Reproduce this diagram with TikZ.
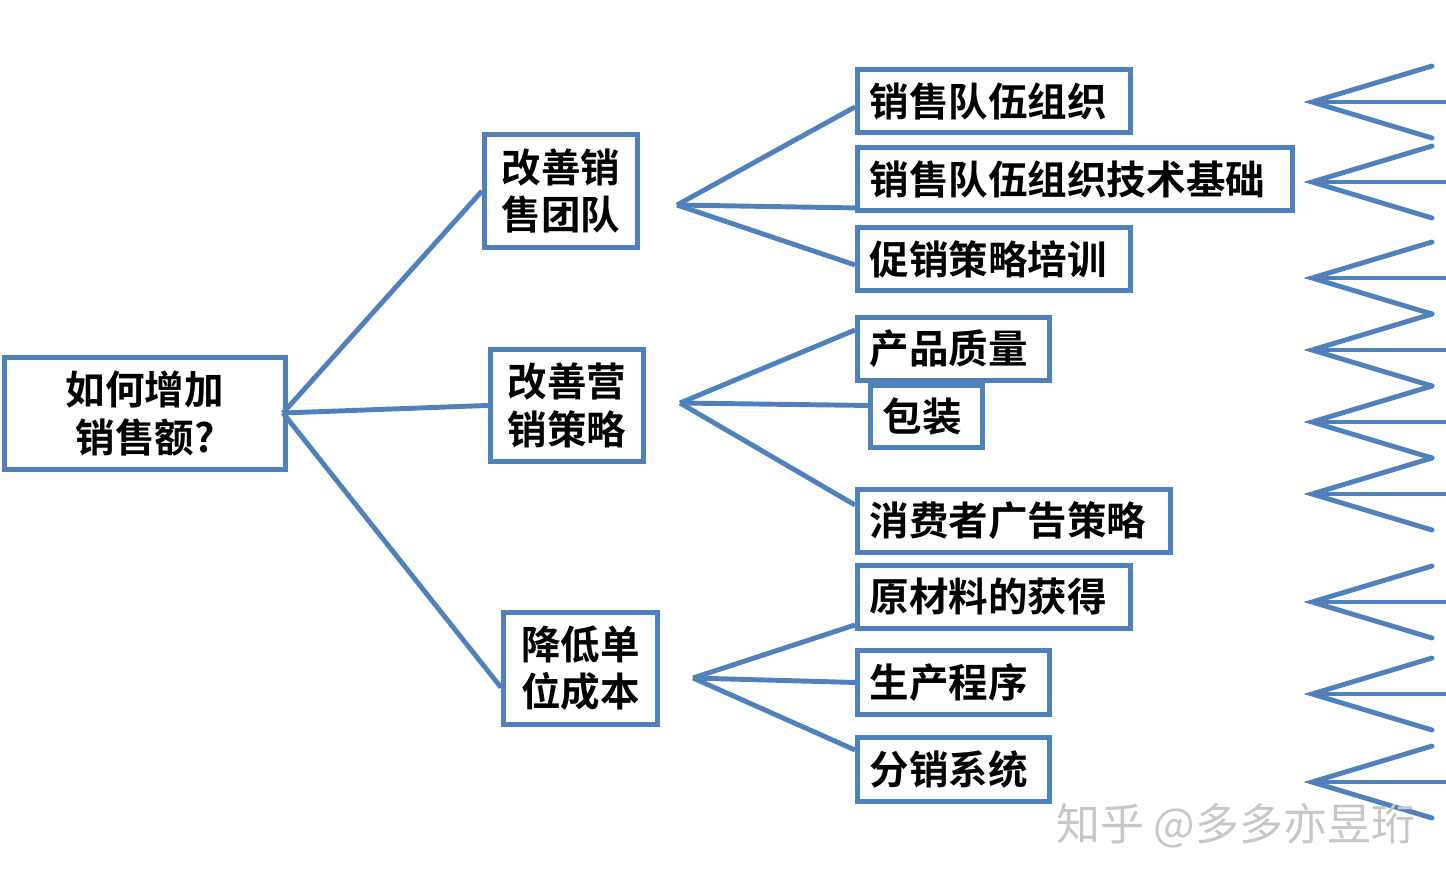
\documentclass[tikz,border=0pt]{standalone}
\usepackage{fontspec}
\setmainfont{Noto Sans CJK SC}
\newfontfamily\cjkb{Noto Sans CJK SC Bold}
\begin{document}
\begin{tikzpicture}[x=0.02cm,y=-0.02cm,
  ln/.style={draw={rgb,255:red,79;green,129;blue,189},line width=2.8pt},
  box/.style 2 args={ln,fill=white,rectangle,anchor=north west,inner sep=0pt,
    minimum width=#1*0.02cm,minimum height=#2*0.02cm,font=\cjkb\fontsize{22.5}{27}\selectfont},
  leaf/.style 2 args={box={#1}{#2},text width=#1*0.02cm-14pt,align=left,inner xsep=7pt},
  fan/.style={ln,line cap=round}]
\useasboundingbox (0,0) rectangle (1446,886);
% right fans
\foreach \y in {102,182,278,350,422,494,602,694,782}{
  \draw[fan] (1432,\y-36) -- (1312,\y) -- (1432,\y+36);
  \draw[fan] (1312,\y) -- (1446,\y);
}
\coordinate (r) at (283,413);
\coordinate (fa) at (677,205);
\coordinate (fb) at (680,403);
\coordinate (fc) at (693,678);
\node[box={281}{112},align=center] (root) at (2,355) {如何增加\\销售额?};
\node[box={153}{113},align=center] (a) at (482,132) {改善销\\售团队};
\node[box={153}{112},align=center] (b) at (488,347) {改善营\\销策略};
\node[box={154}{112},align=center] (c) at (501,610) {降低单\\位成本};
\node[leaf={273}{63}] (a1) at (855,67) {销售队伍组织};
\node[leaf={435}{63}] (a2) at (855,145) {销售队伍组织技术基础};
\node[leaf={273}{63}] (a3) at (855,225) {促销策略培训};
\node[leaf={192}{63}] (b1) at (855,315) {产品质量};
\node[leaf={112}{62}] (b2) at (868,383) {包装};
\node[leaf={313}{63}] (b3) at (855,487) {消费者广告策略};
\node[leaf={273}{63}] (c1) at (855,563) {原材料的获得};
\node[leaf={192}{64}] (c2) at (855,648) {生产程序};
\node[leaf={192}{64}] (c3) at (855,735) {分销系统};
\draw[ln] (r) -- (a.west);
\draw[ln] (r) -- (b.west);
\draw[ln] (r) -- ([yshift=-0.38cm]c.west);
\draw[ln] (fa) -- ([yshift=-0.12cm]a1.west);
\draw[ln] (fa) -- ([yshift=0.1cm]a2.south west);
\draw[ln] (fa) -- ([yshift=-0.12cm]a3.west);
\draw[ln] (fb) -- ([yshift=-0.3cm]b1.north west);
\draw[ln] (fb) -- ([yshift=0.22cm]b2.west);
\draw[ln] (fb) -- ([yshift=-0.36cm]b3.north west);
\draw[ln] (fc) -- ([yshift=0.12cm]c1.south west);
\draw[ln] (fc) -- (c2.west);
\draw[ln] (fc) -- ([yshift=-0.3cm]c3.north west);
\node[text=black!22,font=\fontsize{25}{30}\selectfont,anchor=west] (wm) at (1050,826) {知乎 @多多亦昱珩};
\end{tikzpicture}
\end{document}
